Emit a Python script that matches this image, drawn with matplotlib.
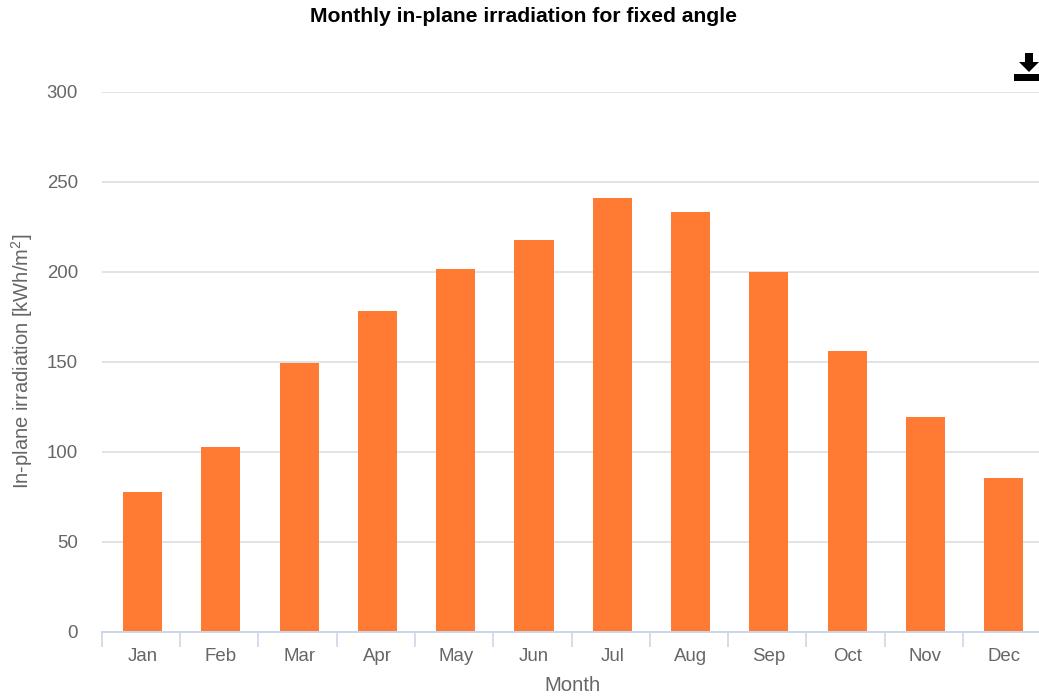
import matplotlib
matplotlib.use("Agg")
import matplotlib.pyplot as plt
from matplotlib.patches import Polygon, Rectangle

months = ["Jan", "Feb", "Mar", "Apr", "May", "Jun", "Jul", "Aug", "Sep", "Oct", "Nov", "Dec"]
irradiation = [77.5, 102.5, 149, 178, 201.5, 217.5, 241, 233, 199.5, 156, 119, 85.5]
y_ticks = [0, 50, 100, 150, 200, 250, 300]

W, H = 1039, 696
BAR_COLOR = "#ff7b33"
TEXT_COLOR = "#666666"
GRID_COLOR = "#dcdfe3"
AXIS_COLOR = "#ccd6eb"
LEFT, BOTTOM, TOP = 101.7, 631.5, 91.5
CAT_W = 78.3
X_START = -0.521

plt.rcParams["font.family"] = ["Liberation Sans", "DejaVu Sans"]
plt.rcParams["mathtext.fontset"] = "custom"
plt.rcParams["mathtext.rm"] = "Liberation Sans"
plt.rcParams["mathtext.default"] = "regular"


def fx(px):
    return px / W


def fy(px):
    return 1 - px / H


fig = plt.figure(figsize=(W / 100, H / 100), dpi=100)
ax = fig.add_axes([fx(LEFT), fy(BOTTOM), fx(W - LEFT), (BOTTOM - TOP) / H])

positions = list(range(len(months)))
ax.bar(positions, irradiation, width=0.5, color=BAR_COLOR, zorder=3)

ax.set_ylim(0, 300)
ax.set_xlim(X_START, (W - LEFT) / CAT_W + X_START)
ax.set_yticks(y_ticks)
ax.set_xticks(positions)
ax.set_xticklabels(months)
ax.set_xticks([p + X_START for p in positions], minor=True)

ax.grid(axis="y", color=GRID_COLOR, linewidth=1.2, zorder=0)
ax.set_axisbelow(True)
for side in ["top", "right", "left"]:
    ax.spines[side].set_visible(False)
ax.spines["bottom"].set_color(AXIS_COLOR)
ax.spines["bottom"].set_linewidth(1.4)
ax.spines["bottom"].set_zorder(4)

ax.tick_params(axis="y", length=0, pad=17, labelsize=13.4, labelcolor=TEXT_COLOR)
ax.tick_params(axis="x", which="major", length=0, pad=12, labelsize=13.4, labelcolor=TEXT_COLOR)
ax.tick_params(axis="x", which="minor", length=11, width=1.2, color=AXIS_COLOR)

fig.text(fx(524), fy(16), "Monthly in-plane irradiation for fixed angle", ha="center", va="center",
         fontsize=15.25, fontweight="bold", color="black")
fig.text(fx(22.5), fy(361.5), "In-plane irradiation [kWh/m$^{2}$]", rotation=90, ha="center", va="center",
         fontsize=14.5, color=TEXT_COLOR)
fig.text(fx(573), fy(685.5), "Month", ha="center", va="center", fontsize=14.6, color=TEXT_COLOR)

# download icon, top right
arrow = [(1025, 53), (1033, 53), (1033, 62), (1039, 62), (1029, 72), (1019, 62), (1025, 62)]
fig.add_artist(Polygon([(fx(x), fy(y)) for x, y in arrow], closed=True, color="black",
                       transform=fig.transFigure, linewidth=0))
fig.add_artist(Rectangle((fx(1014), fy(81)), fx(25), 7 / H, color="black",
                         transform=fig.transFigure, linewidth=0))

fig.savefig("out.png", dpi=100)
